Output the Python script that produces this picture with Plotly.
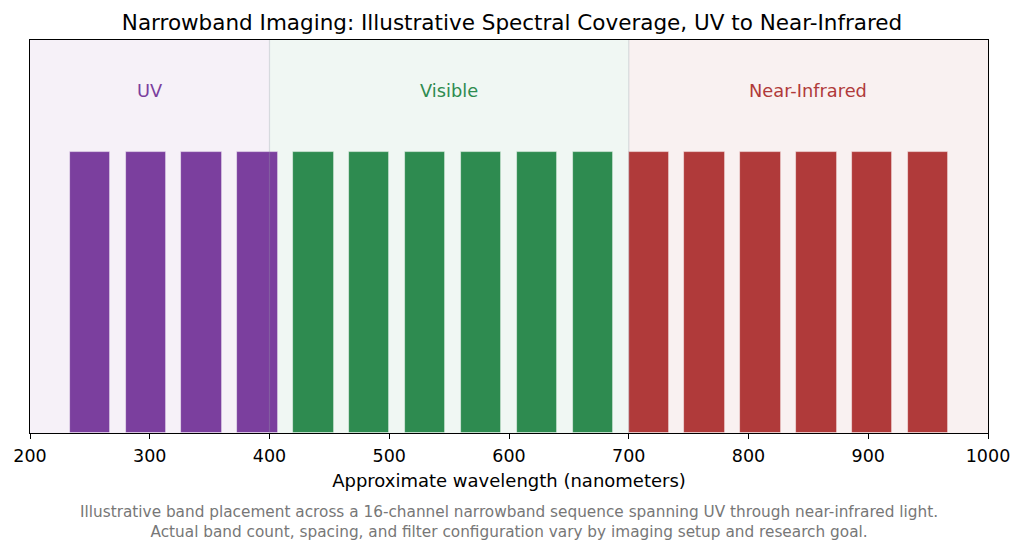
import plotly.graph_objects as go

# ---- data ----
band_centers_uv = [250.0, 296.7, 343.3, 390.0]
band_centers_vis = [436.7, 483.3, 530.0, 576.7, 623.3, 670.0]
band_centers_nir = [716.7, 763.3, 810.0, 856.7, 903.3, 950.0]
band_height = 1.0
band_width_nm = 33.6

region_names = ["UV", "Visible", "Near-Infrared"]
region_starts = [200, 400, 700]
region_ends = [400, 700, 1000]
region_colors = ["#7B3F9E", "#2E8B50", "#B03A3A"]

tick_vals = [200, 300, 400, 500, 600, 700, 800, 900, 1000]

title_text = "Narrowband Imaging: Illustrative Spectral Coverage, UV to Near-Infrared"
xlabel = "Approximate wavelength (nanometers)"
caption = ("Illustrative band placement across a 16-channel narrowband sequence spanning UV through near-infrared light.<br>"
           "Actual band count, spacing, and filter configuration vary by imaging setup and research goal.")

FONT = "DejaVu Sans"

def rgba(hex_color, a):
    h = hex_color.lstrip("#")
    r, g, b = int(h[0:2], 16), int(h[2:4], 16), int(h[4:6], 16)
    return f"rgba({r},{g},{b},{a})"

fig = go.Figure()

groups = [band_centers_uv, band_centers_vis, band_centers_nir]
for name, centers, col in zip(region_names, groups, region_colors):
    fig.add_trace(go.Bar(
        x=centers,
        y=[band_height] * len(centers),
        width=[band_width_nm] * len(centers),
        marker=dict(color=col, line=dict(color="rgba(255,255,255,0.6)", width=0.8)),
        opacity=1.0,
        name=name,
        showlegend=False,
        hoverinfo="x",
    ))

shapes = []
for s, e, col in zip(region_starts, region_ends, region_colors):
    shapes.append(dict(type="rect", xref="x", yref="paper", x0=s, x1=e, y0=0, y1=1,
                       fillcolor=rgba(col, 0.07), line=dict(width=0), layer="below"))
for s in region_starts[1:]:
    shapes.append(dict(type="line", xref="x", yref="paper", x0=s, x1=s, y0=0, y1=1,
                       line=dict(color="rgba(150,160,170,0.3)", width=1.2), layer="above"))

annotations = []
for name, s, e, col in zip(region_names, region_starts, region_ends, region_colors):
    annotations.append(dict(x=(s + e) / 2, y=1.22, xref="x", yref="y", text=name,
                            showarrow=False, font=dict(family=FONT, size=17.8, color=col)))
annotations.append(dict(x=0.5, y=-(521.5 - 433) / (433 - 40), xref="paper", yref="paper", text=caption,
                        showarrow=False, font=dict(family=FONT, size=15.3, color="#777777"),
                        align="center", yanchor="middle"))

fig.update_layout(
    width=1024, height=552,
    margin=dict(l=30, r=36, t=40, b=119),
    paper_bgcolor="white",
    plot_bgcolor="white",
    bargap=0,
    barmode="overlay",
    title=dict(text=title_text, x=0.5, xanchor="center", y=1 - 22 / 552, yanchor="middle",
               font=dict(family=FONT, size=21.5, color="black")),
    font=dict(family=FONT, color="black"),
    shapes=shapes,
    annotations=annotations,
    xaxis=dict(range=[200, 1000], tickvals=tick_vals, ticks="outside", ticklen=5, tickwidth=1.2,
               tickcolor="black", tickfont=dict(family=FONT, size=17.5, color="black"),
               ticklabelstandoff=2,
               showline=True, linecolor="black", linewidth=1.3, mirror=True, showgrid=False,
               zeroline=False,
               title=dict(text=xlabel, font=dict(family=FONT, size=18, color="black"), standoff=9)),
    yaxis=dict(range=[0, 1.4], showticklabels=False, ticks="", showgrid=False, zeroline=False,
               showline=True, linecolor="black", linewidth=1.3, mirror=True),
)

fig.write_html("out.html")
